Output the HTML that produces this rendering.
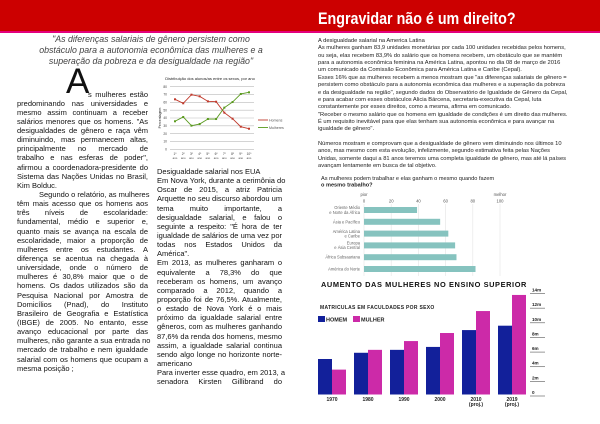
<!DOCTYPE html>
<html><head><meta charset="utf-8">
<style>
*{margin:0;padding:0;box-sizing:border-box}
body{width:600px;height:424px;background:#fff;position:relative;overflow:hidden;font-family:"Liberation Sans",sans-serif;color:#111}
.hdr{position:absolute;left:0;top:0;width:600px;height:31px;background:#cc0000}
.pink{position:absolute;left:0;top:31px;width:600px;height:2px;background:#e4007c}
.title{position:absolute;left:318px;top:9px;font-size:17px;font-weight:bold;color:#fff;white-space:nowrap;transform:scaleX(0.84);transform-origin:left top;line-height:20px}
.quote{position:absolute;left:20px;width:262px;top:34px;font-size:8.8px;font-style:italic;color:#444;text-align:center;line-height:11px}
.col{position:absolute;font-size:7.5px;line-height:9.15px;color:#111}
.col div{height:9.15px;white-space:nowrap;overflow:visible}
.col .j{text-align:justify;text-align-last:justify}
.cap{position:absolute;left:66px;top:64px;font-size:35px;line-height:35px;color:#111}
.rp{position:absolute;left:318px;top:38px;font-size:5.75px;line-height:7.36px;color:#222}
.rp div{height:7.36px;white-space:nowrap}
</style></head><body>
<div class="hdr"></div>
<div class="pink"></div>
<div class="title">Engravidar não é um direito?</div>
<div class="quote">"As diferenças salariais de gênero persistem como<br>obstáculo para a autonomia econômica das mulheres e a<br>superação da pobreza e da desigualdade na região"</div>
<div class="cap">A</div>
<div class="col" style="left:88px;top:89.5px;width:60px"><div class="j">s mulheres estão</div></div>
<div class="col" style="left:17px;top:98.65px;width:131px">
<div class="j">predominando nas universidades e</div>
<div class="j">mesmo assim continuam a receber</div>
<div class="j">salários menores que os homens. "As</div>
<div class="j">desigualdades de gênero e raça vêm</div>
<div class="j">diminuindo, mas permanecem altas,</div>
<div class="j">principalmente no mercado de</div>
<div class="j">trabalho e nas esferas de poder",</div>
<div class="j">afirmou a coordenadora-presidente do</div>
<div class="j">Sistema das Nações Unidas no Brasil,</div>
<div>Kim Bolduc.</div>
<div class="j" style="padding-left:22px">Segundo o relatório, as mulheres</div>
<div class="j">têm mais acesso que os homens aos</div>
<div class="j">três níveis de escolaridade:</div>
<div class="j">fundamental, médio e superior e,</div>
<div class="j">quanto mais se avança na escala de</div>
<div class="j">escolaridade, maior a proporção de</div>
<div class="j">mulheres entre os estudantes. A</div>
<div class="j">diferença se acentua na chegada à</div>
<div class="j">universidade, onde o número de</div>
<div class="j">mulheres é 30,8% maior que o de</div>
<div class="j">homens. Os dados utilizados são da</div>
<div class="j">Pesquisa Nacional por Amostra de</div>
<div class="j">Domicílios (Pnad), do Instituto</div>
<div class="j">Brasileiro de Geografia e Estatística</div>
<div class="j">(IBGE) de 2005. No entanto, esse</div>
<div class="j">avanço educacional por parte das</div>
<div class="j">mulheres, não garante a sua entrada no</div>
<div class="j">mercado de trabalho e nem igualdade</div>
<div class="j">salarial com os homens que ocupam a</div>
<div>mesma posição ;</div>
</div>
<div class="col" style="left:157px;top:167px;width:125px">
<div>Desigualdade salarial nos EUA</div>
<div class="j">Em Nova York, durante a cerimônia do</div>
<div class="j">Oscar de 2015, a atriz Patricia</div>
<div class="j">Arquette no seu discurso abordou um</div>
<div class="j">tema muito importante, a</div>
<div class="j">desigualdade salarial, e falou o</div>
<div class="j">seguinte a respeito: "É hora de ter</div>
<div class="j">igualdade de salários de uma vez por</div>
<div class="j">todas nos Estados Unidos da</div>
<div>América".</div>
<div class="j">Em 2013, as mulheres ganharam o</div>
<div class="j">equivalente a 78,3% do que</div>
<div class="j">receberam os homens, um avanço</div>
<div class="j">comparado a 2012, quando a</div>
<div class="j">proporção foi de 76,5%. Atualmente,</div>
<div class="j">o estado de Nova York é o mais</div>
<div class="j">próximo da igualdade salarial entre</div>
<div class="j">gêneros, com as mulheres ganhando</div>
<div class="j">87,6% da renda dos homens, mesmo</div>
<div class="j">assim, a igualdade salarial continua</div>
<div class="j">sendo algo longe no horizonte norte-</div>
<div>americano</div>
<div class="j">Para inverter esse quadro, em 2013, a</div>
<div class="j">senadora Kirsten Gillibrand do</div>
</div>
<div class="rp">
<div>A desigualdade salarial na America Latina</div>
<div>As mulheres ganham 83,9 unidades monetárias por cada 100 unidades recebidas pelos homens,</div>
<div>ou seja, elas recebem 83,9% do salário que os homens recebem, um obstáculo que se mantém</div>
<div>para a autonomia econômica feminina na América Latina, apontou no dia 08 de março de 2016</div>
<div>um comunicado da Comissão Econômica para América Latina e Caribe (Cepal).</div>
<div>Esses 16% que as mulheres recebem a menos mostram que "as diferenças salariais de gênero  =</div>
<div>persistem como obstáculo para a autonomia econômica das mulheres e a superação da pobreza</div>
<div>e da desigualdade na região", segundo dados do Observatório de Igualdade de Gênero da Cepal,</div>
<div>e para acabar com esses obstáculos Alicia Bárcena, secretaria-executiva da Cepal, luta</div>
<div>constantemente por esses direitos, como a mesma, afirma em comunicado.</div>
<div>"Receber o mesmo salário que os homens em igualdade de condições é um direito das mulheres.</div>
<div>É um requisito inevitável para que elas tenham sua autonomia econômica e para avançar na</div>
<div>igualdade de gênero".</div>
<div></div>
<div>Números mostram e comprovam que a desigualdade de gênero vem diminuindo nos últimos 10</div>
<div>anos, mas mesmo com esta evolução, infelizmente, segundo estimativa feita pelas Nações</div>
<div>Unidas, somente daqui a 81 anos teremos uma completa igualdade de gênero, mas até lá países</div>
<div>avançam lentamente em busca de tal objetivo.</div>
</div>
<svg id="charts" width="600" height="424" style="position:absolute;left:0;top:0" font-family="Liberation Sans, sans-serif">
<text x="210" y="80" font-size="4" text-anchor="middle" fill="#222">Distribuição dos alunos/as entre os sexos, por ano</text>
<text x="0" y="0" font-size="3.5" fill="#222" transform="translate(161,118) rotate(-90)" text-anchor="middle">Percentagem</text>
<g id="lineChart"></g>
<text x="321" y="180" font-size="5.6" fill="#222">As mulheres podem trabalhar e elas ganham o mesmo quando fazem</text>
<text x="321" y="186.5" font-size="5.6" font-weight="bold" fill="#222">o mesmo trabalho?</text>
<text x="364" y="196" font-size="4.2" fill="#555" text-anchor="middle">pior</text>
<text x="500" y="196" font-size="4.2" fill="#555" text-anchor="middle">melhor</text>
<g id="hbarChart"></g>
<text x="321" y="287" font-size="7.4" font-weight="bold" fill="#111" letter-spacing="0.6">AUMENTO DAS MULHERES NO ENSINO SUPERIOR</text>
<text x="320" y="309" font-size="5" font-weight="bold" fill="#222" letter-spacing="0.3">MATRICULAS EM FACULDADES POR SEXO</text>
<rect x="318" y="316" width="7" height="6" fill="#12209a"/>
<text x="326" y="321.5" font-size="5.5" font-weight="bold" fill="#222">HOMEM</text>
<rect x="353" y="316" width="7" height="6" fill="#cc2aa8"/>
<text x="361" y="321.5" font-size="5.5" font-weight="bold" fill="#222">MULHER</text>
<g id="colChart"></g>
</svg>
<script>
// line chart data
const lineYears = ["1º","2º","3º","4º","5º","6º","7º","8º","9º","10º"];
const lineTicks = [0,10,20,30,40,50,60,70,80];
const homensValues = [63.9,58.8,69.8,67.7,61.3,60.8,46.8,39.1,28.9,26.3];
const mulheresValues = [35.8,41.3,30.2,32.3,38.7,38.7,53.2,60.4,70.7,72.8];
// hbar data
const regions = [["Oriente Médio","e Norte da África"],["Ásia e Pacífico"],["América Latina","e Caribe"],["Europa","e Ásia Central"],["África Subsaariana"],["América do Norte"]];
const regionValues = [39,56,62,67,68,82];
const hbarTicks = [0,20,40,60,80,100];
// column data
const colYears = [["1970"],["1980"],["1990"],["2000"],["2010","(proj.)"],["2019","(proj.)"]];
const homemValues = [4.85,5.7,6.1,6.5,8.8,9.4];
const mulherValues = [3.4,6.1,7.3,8.4,11.4,13.6];
const colTicks = [0,2,4,6,8,10,12,14];
const colTickLabels = ["0","2m","4m","6m","8m","10m","12m","14m"];

const NS="http://www.w3.org/2000/svg";
function mk(parent,tag,attrs,text){const e=document.createElementNS(NS,tag);for(const k in attrs)e.setAttribute(k,attrs[k]);if(text!==undefined)e.textContent=text;parent.appendChild(e);return e;}

// line chart
(function(){
const g=document.getElementById('lineChart');
const lx=i=>175+i*(249-175)/(lineYears.length-1);
const ly=v=>149.3-v/80*62.6;
lineTicks.forEach(t=>{
 const l=mk(g,'line',{x1:170,x2:254,y1:ly(t),y2:ly(t),stroke:'#bbb','stroke-width':0.6});
 
 
 const tx=mk(g,'text',{x:167,y:ly(t)+1.2,'font-size':3.3,'text-anchor':'end',fill:'#444'},String(t));
 
 
});
lineYears.forEach((y,i)=>{
 const tx=mk(g,'text',{x:lx(i),y:155,'font-size':3.2,'text-anchor':'middle',fill:'#444'},y);
 
 
 const tx2=mk(g,'text',{x:lx(i),y:159,'font-size':2.8,'text-anchor':'middle',fill:'#444'},'ano');
 
 
});
[[homensValues,'#c0392b','homens'],[mulheresValues,'#5a9a1e','mulheres']].forEach(([vals,c,n])=>{
 const p=mk(g,'polyline',{points:vals.map((v,i)=>lx(i)+','+ly(v)).join(' '),fill:'none',stroke:c,'stroke-width':0.9});
 
 
 vals.forEach((v,i)=>{
  const m=mk(g,'rect',{x:lx(i)-1,y:ly(v)-1,width:2,height:2,fill:c});
  
  
 });
});
[['#c0392b','Homens',120],['#5a9a1e','Mulheres',127.5]].forEach(([c,t,y])=>{
 const l=mk(g,'line',{x1:258,x2:268,y1:y,y2:y,stroke:c,'stroke-width':0.9});
 
 
 const tx=mk(g,'text',{x:269,y:y+1.3,'font-size':3.6,fill:'#555'},t);
 
 
});
})();

// hbar
(function(){
const g=document.getElementById('hbarChart');
const hx=v=>364+v*1.36;
hbarTicks.forEach(t=>{
 const l=mk(g,'line',{x1:hx(t),x2:hx(t),y1:204,y2:276,stroke:'#e4e4e4','stroke-width':0.6});
 
 
 const tx=mk(g,'text',{x:hx(t),y:202.5,'font-size':4.2,'text-anchor':'middle',fill:'#555'},String(t));
 
 
});
regionValues.forEach((v,i)=>{
 const top=207+i*11.8;
 const r=mk(g,'rect',{x:hx(0),y:top,width:hx(v)-hx(0),height:6,fill:'#86c3bf'});
 
 
 const lines=regions[i];
 lines.forEach((t,k)=>{
  const yy=top+3+1.5+(k-(lines.length-1)/2)*4.6;
  const tx=mk(g,'text',{x:360,y:yy,'font-size':4.1,'text-anchor':'end',fill:'#666'},t);
  
  
 });
});
})();

// column chart
(function(){
const g=document.getElementById('colChart');
const cy=v=>394.5-v*7.32;
const cx=i=>332+i*36;
colTicks.forEach((t,k)=>{
 const l=mk(g,'line',{x1:530,x2:545,y1:cy(t)+1.5,y2:cy(t)+1.5,stroke:'#555','stroke-width':0.6});
 
 
 const tx=mk(g,'text',{x:532,y:cy(t)-0.5,'font-size':4.6,'font-weight':'bold',fill:'#222'},colTickLabels[k]);
 
 
});
colYears.forEach((lab,i)=>{
 const c=cx(i);
 const h=mk(g,'rect',{x:c-14,y:cy(homemValues[i]),width:14,height:cy(0)-cy(homemValues[i]),fill:'#12209a'});
 
 
 const m=mk(g,'rect',{x:c,y:cy(mulherValues[i]),width:14,height:cy(0)-cy(mulherValues[i]),fill:'#cc2aa8'});
 
 
 lab.forEach((t,k)=>{
  const tx=mk(g,'text',{x:c,y:401+k*5,'font-size':5,'font-weight':'bold','text-anchor':'middle',fill:'#222'},t);
  
  
 });
});
})();
</script>
</body></html>
